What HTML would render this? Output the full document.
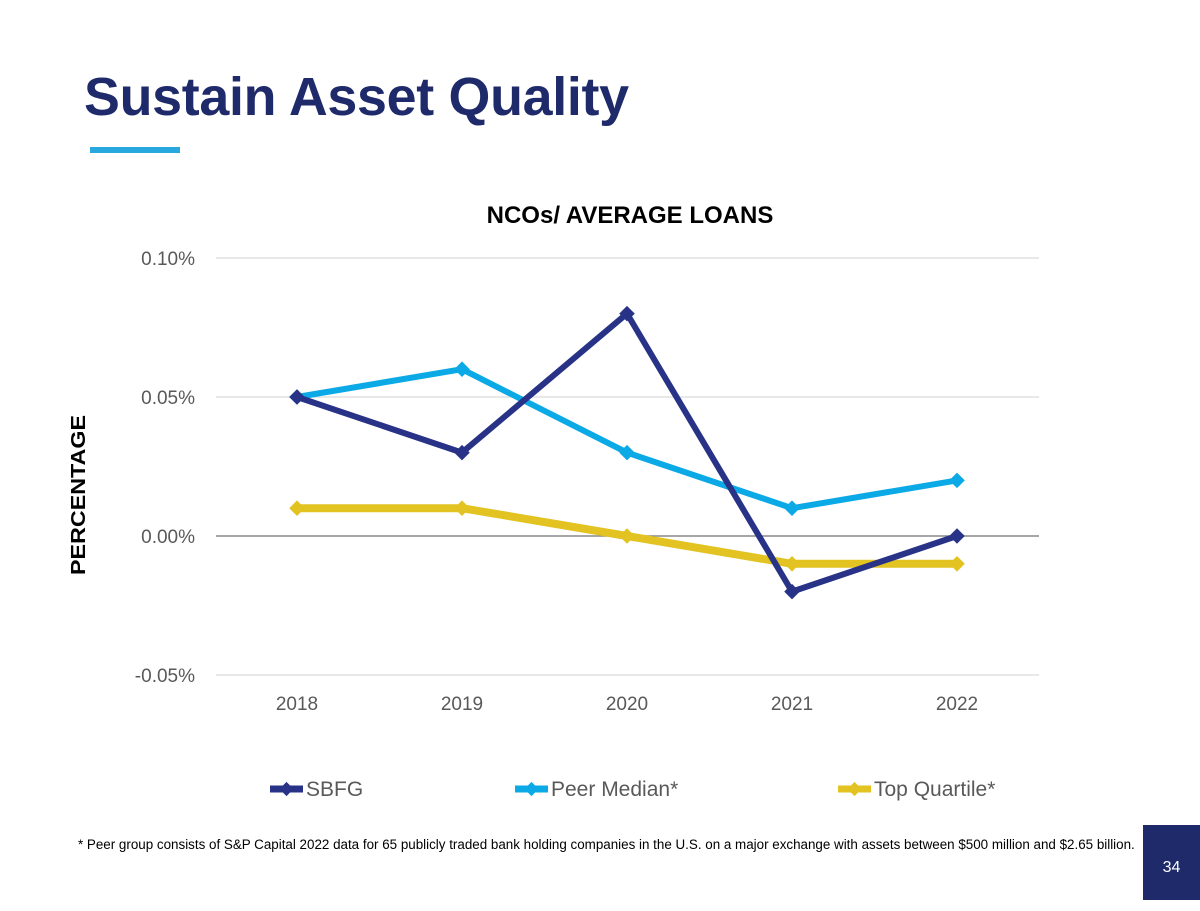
<!DOCTYPE html>
<html><head><meta charset="utf-8"><style>
body{margin:0;width:1200px;height:900px;background:#fff;position:relative;overflow:hidden;font-family:"Liberation Sans",sans-serif}
.title{position:absolute;left:84px;top:66px;font-size:53.8px;font-weight:bold;color:#1f2a6b;letter-spacing:-0.3px}
.bar{position:absolute;left:90px;top:147px;width:90px;height:6px;background:#29a8e0}
.foot{position:absolute;left:78px;top:837px;font-size:13.4px;color:#000;white-space:nowrap}
.pg{position:absolute;left:1143px;top:825px;width:57px;height:75px;background:#1f2a6b;color:#fff;font-size:16px;text-align:center;line-height:86px}
svg{position:absolute;left:0;top:0}
</style></head><body>
<div class="title">Sustain Asset Quality</div>
<div class="bar"></div>
<svg id="chart" width="1200" height="900"></svg>
<div class="foot">* Peer group consists of S&amp;P Capital 2022 data for 65 publicly traded bank holding companies in the U.S. on a major exchange with assets between $500 million and $2.65 billion.</div>
<div class="pg">34</div>
<script>
const years=["2018","2019","2020","2021","2022"];
const sbfg=[0.05,0.03,0.08,-0.02,0.00];
const peer=[0.05,0.06,0.03,0.01,0.02];
const topq=[0.01,0.01,0.00,-0.01,-0.01];
const yTicks=[0.10,0.05,0.00,-0.05];
const seriesNames=["SBFG","Peer Median*","Top Quartile*"];
const colors=["#283387","#0ba9e6","#e2c322"];
const ns="http://www.w3.org/2000/svg";
const svg=document.getElementById('chart');
const x=i=>297+i*165;
const y=v=>536-(v/0.05)*139;
function mk(t,a){const e=document.createElementNS(ns,t);for(const k in a)e.setAttribute(k,a[k]);svg.appendChild(e);return e;}
let t=mk('text',{x:630,y:223,'text-anchor':'middle','font-size':24,'font-weight':'bold',fill:'#000'});t.textContent='NCOs/ AVERAGE LOANS';


t=mk('text',{x:0,y:0,transform:'translate(85,495) rotate(-90)','text-anchor':'middle','font-size':20,'font-weight':'bold',fill:'#000',textLength:160,lengthAdjust:'spacingAndGlyphs'});t.textContent='PERCENTAGE';


yTicks.forEach(v=>{
 const g=mk('line',{x1:216,x2:1039,y1:y(v),y2:y(v),stroke:v===0?'#888':'#d9d9d9','stroke-width':v===0?1.5:1.3});
 
 
 const l=mk('text',{x:195,y:y(v)+7,'text-anchor':'end','font-size':19,fill:'#595959'});l.textContent=v.toFixed(2)+'%';
 
 
});
years.forEach((yr,i)=>{
 const l=mk('text',{x:x(i),y:710,'text-anchor':'middle','font-size':19,fill:'#595959'});l.textContent=yr;
 
 
});
const all=[sbfg,peer,topq];
const order=[2,1,0];
order.forEach(s=>{
 const d=all[s];
 const p=mk('polyline',{points:d.map((v,i)=>x(i)+','+y(v)).join(' '),fill:'none',stroke:colors[s],'stroke-width':s===2?8:6,'stroke-linejoin':'round'});
 
 
 d.forEach((v,i)=>{
  const m=mk('rect',{x:x(i)-5.5,y:y(v)-5.5,width:11,height:11,fill:colors[s],transform:`rotate(45 ${x(i)} ${y(v)})`});
  
  
 });
});
const lx=[270,515,838];
seriesNames.forEach((n,s)=>{
 const l=mk('line',{x1:lx[s],x2:lx[s]+33,y1:789,y2:789,stroke:colors[s],'stroke-width':7});
 
 
 const m=mk('rect',{x:lx[s]+16.5-5,y:784,width:10,height:10,fill:colors[s],transform:`rotate(45 ${lx[s]+16.5} 789)`});
 
 
 const tx=mk('text',{x:lx[s]+36,y:796,'font-size':21,fill:'#595959'});tx.textContent=n;
 
 
});
</script>
</body></html>
